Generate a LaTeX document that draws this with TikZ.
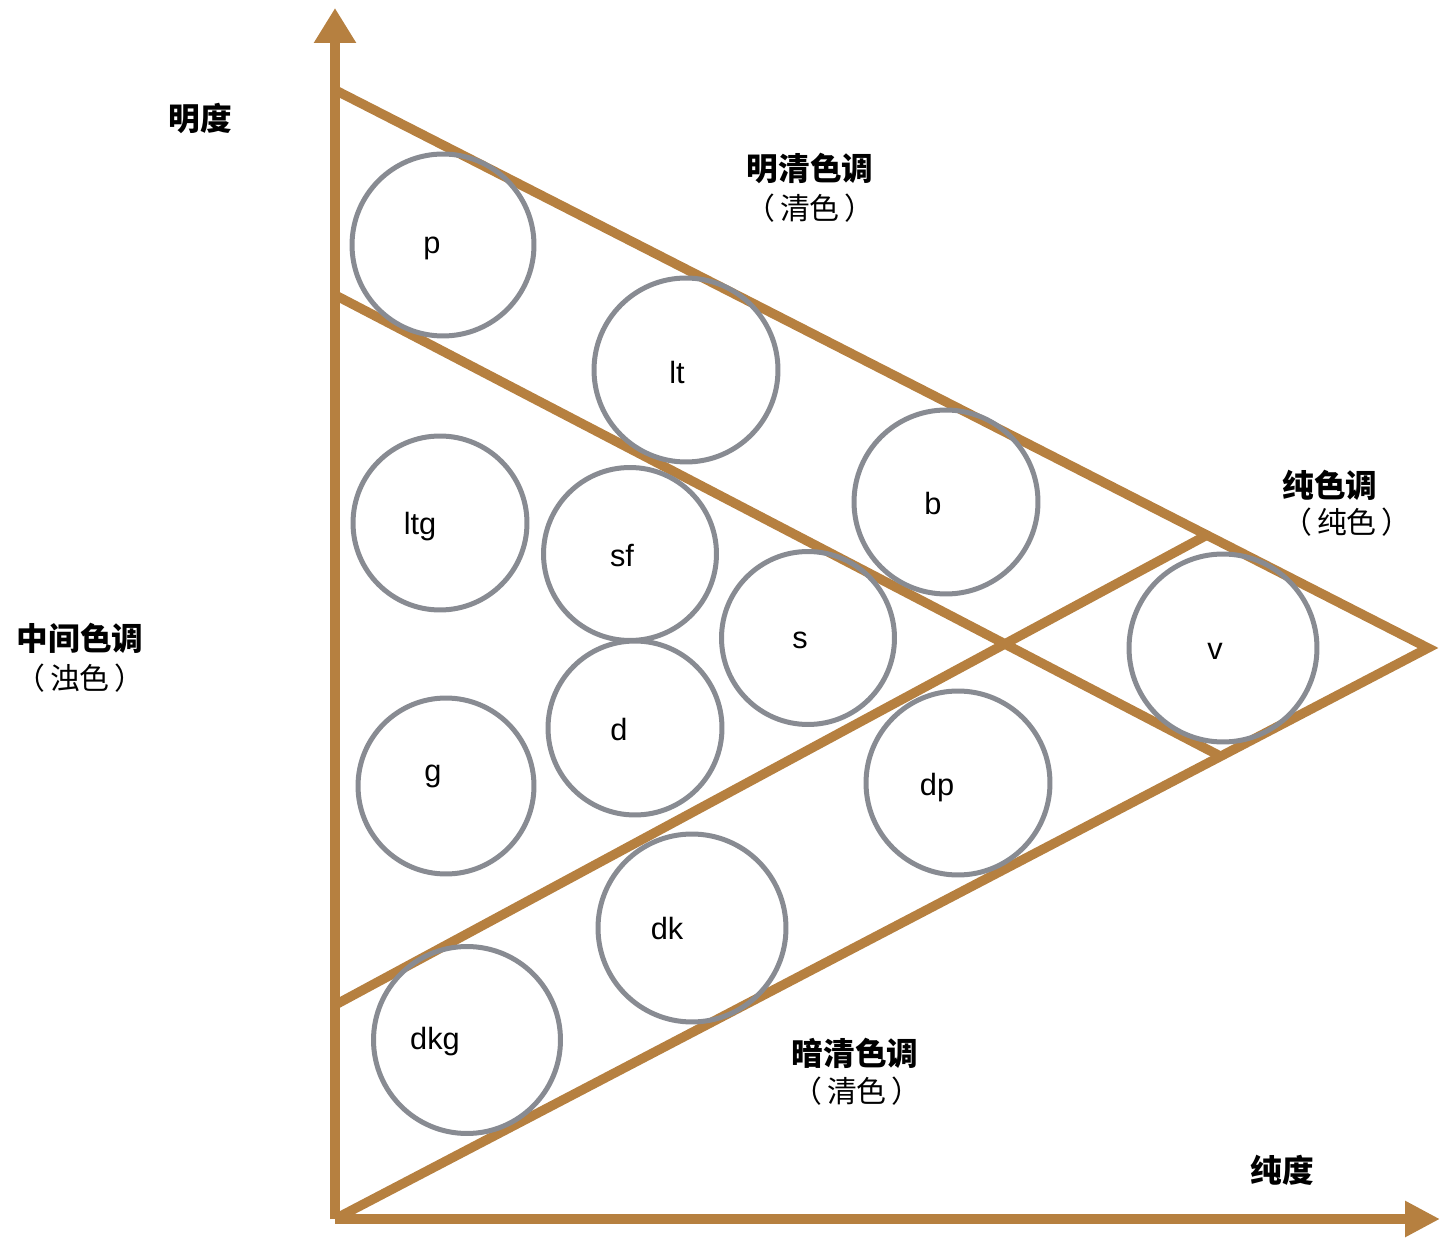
\documentclass[tikz,border=0pt]{standalone}
\usepackage{fontspec}
\setmainfont{Liberation Sans}
\newfontfamily\cjk{Noto Sans CJK SC}
\usepackage{tikz}
\usetikzlibrary{arrows.meta, positioning}
\definecolor{cOchre}{RGB}{182,128,64}
\definecolor{cRing}{RGB}{136,139,146}
\newcommand{\paren}[1]{（\kern0.15em#1\kern0.15em）}
\tikzset{
	axis/.style     ={line width=0.2cm, draw=cOchre},
	band/.style     ={line width=0.19cm, draw=cOchre, line join=miter},
	tone/.style     ={circle, draw=cRing, line width=0.1cm, inner sep=0pt},
	tonelbl/.style  ={font=\fontsize{17.5}{18}\selectfont, inner sep=0pt},
	head/.style     ={font=\cjk\bfseries\fontsize{18}{20}\selectfont, inner sep=0pt},
	sub/.style      ={font=\cjk\fontsize{17}{19}\selectfont, inner sep=0pt},
}

\begin{document}
\begin{tikzpicture}[x=0.02cm, y=-0.02cm]
	\useasboundingbox (0,0) rectangle (1440,1239);
	% corners of the tone triangle
	\coordinate (O) at (335,1219);
	\coordinate (T) at (335,90);
	\coordinate (R) at (1428,648);
	\coordinate (Ym) at (335,8);
	\coordinate (Xm) at (1440,1219);
	\coordinate (a1) at (335,295);  \coordinate (a2) at (1220,756);
	\coordinate (b1) at (335,1005); \coordinate (b2) at (1207,535);
	% axes
	\draw[axis, -{Triangle[length=0.7cm, width=0.8cm]}] (O) -- (Ym);
	\draw[axis, -{Triangle[length=0.7cm, width=0.68cm]}] (O) -- (Xm);
	% triangle and bands
	\draw[band] (T) -- (R) -- (O);
	\draw[band] (a1) -- (a2);
	\draw[band] (b1) -- (b2);
	% tone circles
	\node[tone, minimum size=3.64cm] (p)   at (443,245)  {};
	\node[tone, minimum size=3.68cm] (lt)  at (686,370)  {};
	\node[tone, minimum size=3.68cm] (b)   at (946,502)  {};
	\node[tone, minimum size=3.48cm] (ltg) at (440,523)  {};
	\node[tone, minimum size=3.46cm] (sf)  at (630,554)  {};
	\node[tone, minimum size=3.46cm] (s)   at (808,638)  {};
	\node[tone, minimum size=3.76cm] (v)   at (1223,648) {};
	\node[tone, minimum size=3.52cm] (g)   at (446,786)  {};
	\node[tone, minimum size=3.48cm] (d)   at (635,728)  {};
	\node[tone, minimum size=3.68cm] (dp)  at (958,783)  {};
	\node[tone, minimum size=3.76cm] (dk)  at (692,928)  {};
	\node[tone, minimum size=3.74cm] (dkg) at (467,1040) {};
	% tone names
	\node[tonelbl] (p-t)   at (432,248)  {p};
	\node[tonelbl] (lt-t)  at (677,372)  {lt};
	\node[tonelbl] (b-t)   at (933,504)  {b};
	\node[tonelbl] (ltg-t) at (420,527)  {ltg};
	\node[tonelbl] (sf-t)  at (622,556)  {sf};
	\node[tonelbl] (s-t)   at (800,640)  {s};
	\node[tonelbl] (v-t)   at (1215,651) {v};
	\node[tonelbl] (g-t)   at (433,776)  {g};
	\node[tonelbl] (d-t)   at (619,730)  {d};
	\node[tonelbl] (dp-t)  at (937,788)  {dp};
	\node[tonelbl] (dk-t)  at (667,929)  {dk};
	\node[tonelbl] (dkg-t) at (435,1042) {dkg};
	% group names
	\node[head] (light)  at (200,118)  {明度};
	\node[head] (bright) at (810,168)  {明清色调};
	\node[sub]  (bright-s) at (810,208) {\paren{清色}};
	\node[head] (pure)   at (1330,485) {纯色调};
	\node[sub]  (pure-s) at (1347,522) {\paren{纯色}};
	\node[head] (mid)    at (80,638)   {中间色调};
	\node[sub]  (mid-s)  at (80,678)   {\paren{浊色}};
	\node[head] (dark)   at (855,1053) {暗清色调};
	\node[sub]  (dark-s) at (857,1091) {\paren{清色}};
	\node[head] (chroma) at (1282,1170) {纯度};
\end{tikzpicture}
\end{document}
